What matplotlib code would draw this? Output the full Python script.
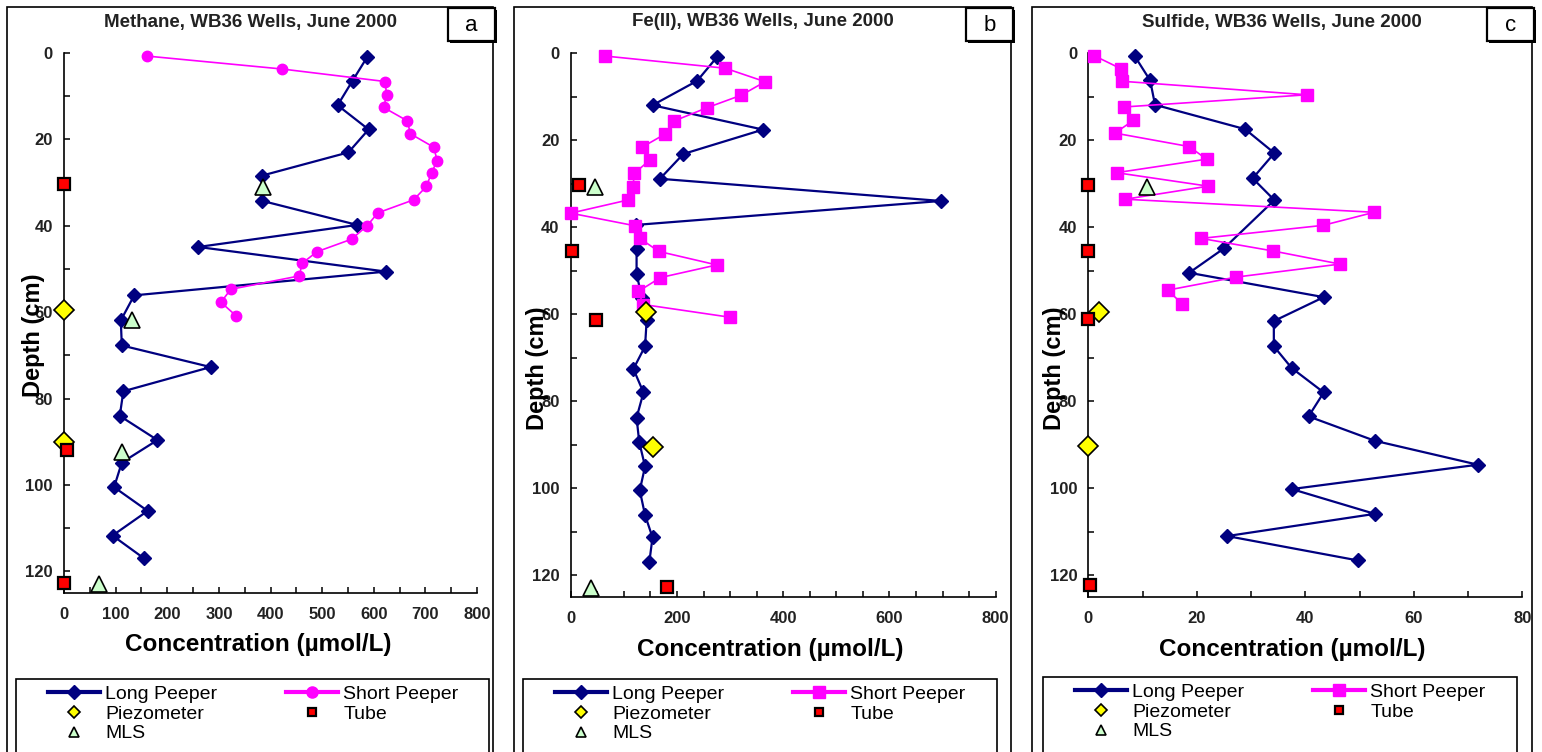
import matplotlib
matplotlib.use('Agg')
import matplotlib.pyplot as plt
from matplotlib.patches import Rectangle
from matplotlib.lines import Line2D
from matplotlib.ticker import MultipleLocator

plt.rcParams['font.family'] = ['Liberation Sans', 'DejaVu Sans']

# ---------------- data ----------------
# Panel a: Methane
ch4_long_depth = [1, 6.4, 12.1, 17.7, 23, 28.4, 34.2, 39.8, 44.9, 50.6, 56.1, 61.9,
                  67.7, 72.7, 78.3, 84, 89.6, 94.8, 100.5, 106, 111.7, 116.9]
ch4_long_conc = [587, 559, 530, 590, 551, 383, 383, 568, 260, 624, 136, 110,
                 112, 284, 115, 108, 181, 112, 97, 162, 94, 154]
ch4_short_depth = [0.7, 3.7, 6.6, 9.8, 12.6, 15.7, 18.7, 21.8, 24.9, 27.7, 30.9,
                   34, 37, 40, 43.1, 46, 48.7, 51.6, 54.7, 57.7, 60.8]
ch4_short_conc = [160, 422, 622, 625, 619, 665, 671, 716, 723, 712, 702,
                  677, 608, 587, 557, 490, 461, 456, 323, 304, 333]
ch4_piezo_depth = [59.6, 90]
ch4_piezo_conc = [0, 0]
ch4_tube_depth = [30.3, 92, 122.6]
ch4_tube_conc = [0, 5, 0]
ch4_mls_depth = [31, 61.7, 92.3, 123]
ch4_mls_conc = [386, 132, 112, 68]

# Panel b: Fe(II)
fe_long_depth = [0.85, 6.4, 12, 17.6, 23.2, 28.9, 34, 39.5, 45.1, 50.7, 56.3, 61.3,
                 67.4, 72.6, 78, 83.8, 89.4, 95, 100.5, 106.2, 111.3, 117]
fe_long_conc = [276, 238, 154, 362, 212, 168, 697, 123, 124, 124, 134, 143,
                140, 118, 137, 124, 129, 140, 130, 140, 154, 148]
fe_short_depth = [0.7, 3.5, 6.6, 9.7, 12.6, 15.6, 18.6, 21.6, 24.6, 27.6, 30.8,
                  33.8, 36.8, 39.7, 42.6, 45.6, 48.7, 51.6, 54.8, 57.8, 60.7]
fe_short_conc = [65, 291, 366, 321, 256, 195, 178, 135, 149, 120, 117,
                 107, 0, 121, 130, 166, 275, 169, 127, 137, 299]
fe_piezo_depth = [59.6, 90.5]
fe_piezo_conc = [142, 154]
fe_tube_depth = [30.3, 45.6, 61.3, 122.7]
fe_tube_conc = [16, 3, 47, 181]
fe_mls_depth = [30.7, 123]
fe_mls_conc = [46, 38]

# Panel c: Sulfide
hs_long_depth = [0.8, 6.3, 11.9, 17.5, 23, 28.8, 33.8, 44.9, 50.5, 56.1, 61.6,
                 67.4, 72.4, 78, 83.5, 89.1, 94.6, 100.2, 105.9, 111, 116.6]
hs_long_conc = [8.6, 11.4, 12.3, 28.9, 34.3, 30.3, 34.3, 25, 18.6, 43.4, 34.2,
                34.2, 37.5, 43.4, 40.6, 52.8, 71.8, 37.5, 52.8, 25.6, 49.7]
hs_short_depth = [0.6, 3.6, 6.5, 9.6, 12.4, 15.5, 18.4, 21.5, 24.4, 27.5, 30.6,
                  33.6, 36.6, 39.6, 42.6, 45.5, 48.5, 51.5, 54.5, 57.6]
hs_short_conc = [1.05, 6, 6.3, 40.3, 6.6, 8.3, 4.9, 18.6, 21.8, 5.2, 22.1,
                 6.8, 52.7, 43.3, 20.8, 34.1, 46.4, 27.2, 14.6, 17.3]
hs_piezo_depth = [59.4, 90.3]
hs_piezo_conc = [2, 0]
hs_tube_depth = [30.3, 45.6, 61.2, 122.3]
hs_tube_conc = [0, 0, 0, 0.4]
hs_mls_depth = [30.7]
hs_mls_conc = [10.9]

titles = ['Methane, WB36 Wells, June 2000', 'Fe(II), WB36 Wells, June 2000',
          'Sulfide, WB36 Wells, June 2000']
letters = ['a', 'b', 'c']
legend_labels = ['Long Peeper', 'Short Peeper', 'Piezometer', 'Tube', 'MLS']
xlabel_text = 'Concentration (\u00b5mol/L)'
ylabel_text = 'Depth (cm)'

# ---------------- styling ----------------
W, H = 1542, 752
NAVY = '#000080'
MAGENTA = '#FF00FF'
YELLOW = '#FFFF00'
RED = '#FF0000'
LGREEN = '#CCFFCC'

fig = plt.figure(figsize=(W / 100, H / 100), dpi=100)


def fx(px):
    return px / W


def fy(py):
    return 1 - py / H


def draw_panel(axpx, framepx, legpx, ylab_xy, title, letter, xmax, xlab_step,
               xtick_step, ld, lc, sd, sc, smarker, pd_, pc, td, tc, md, mc):
    x0, x1, y0, y1 = axpx
    ax = fig.add_axes([fx(x0), fy(y1), fx(x1 - x0), (y1 - y0) / H])
    ax.plot(lc, ld, color=NAVY, lw=1.6, marker='D', ms=7, mfc=NAVY, mec=NAVY,
            zorder=3, clip_on=False)
    ax.plot(sc, sd, color=MAGENTA, lw=1.2, marker=smarker,
            ms=(7.5 if smarker == 'o' else 8), mfc=MAGENTA, mec=MAGENTA,
            zorder=4, clip_on=False)
    ax.plot(pc, pd_, ls='none', marker='D', ms=10, mfc=YELLOW, mec='black',
            mew=1.2, zorder=5, clip_on=False)
    ax.plot(tc, td, ls='none', marker='s', ms=8, mfc=RED, mec='black',
            mew=1.6, zorder=6, clip_on=False)
    ax.plot(mc, md, ls='none', marker='^', ms=12, mfc=LGREEN, mec='black',
            mew=1.2, zorder=7, clip_on=False)
    ax.set_xlim(0, xmax)
    ax.set_ylim(125, 0)
    for s in ['top', 'right']:
        ax.spines[s].set_visible(False)
    for s in ['left', 'bottom']:
        ax.spines[s].set_linewidth(1.2)
    ax.set_yticks(range(0, 121, 20))
    ax.yaxis.set_minor_locator(MultipleLocator(10))
    ax.xaxis.set_major_locator(MultipleLocator(xlab_step))
    ax.xaxis.set_minor_locator(MultipleLocator(xtick_step))
    ax.tick_params(which='both', direction='in', length=4, width=1.1)
    ax.tick_params(axis='y', which='major', labelsize=12, pad=8)
    ax.tick_params(axis='x', which='major', labelsize=12, pad=10)
    for t in ax.get_xticklabels() + ax.get_yticklabels():
        t.set_fontweight('bold')
        t.set_color('#222222')
    ax.set_xlabel(xlabel_text, fontsize=17.5, fontweight='bold')
    ax.xaxis.set_label_coords(0.47, -0.075)
    ax.set_ylabel(ylabel_text, fontsize=17, fontweight='bold')
    ax.yaxis.set_label_coords(*ylab_xy)
    ax.patch.set_alpha(0)

    # panel frame (cut off at bottom)
    fl, fr, ft = framepx
    fig.add_artist(Rectangle((fx(fl), fy(H + 20)), fx(fr - fl), (H + 20 - ft) / H,
                             transform=fig.transFigure, fill=False,
                             ec='black', lw=1.2, zorder=0))
    # title
    fig.text(fx((fl + fr) / 2), fy(22), title, ha='center', va='center',
             fontsize=13.5, fontweight='bold', color='#222222')
    # letter box
    bl, br, bt, bb = fr - 45, fr + 2, 8, 41
    fig.add_artist(Rectangle((fx(bl + 2), fy(bb + 2)), fx(br - bl), (bb - bt) / H,
                             transform=fig.transFigure, fc='black', ec='black',
                             lw=0, zorder=5))
    fig.add_artist(Rectangle((fx(bl), fy(bb)), fx(br - bl), (bb - bt) / H,
                             transform=fig.transFigure, fc='white', ec='black',
                             lw=1.6, zorder=6))
    fig.text(fx((bl + br) / 2), fy((bt + bb) / 2 + 1), letter, ha='center',
             va='center', fontsize=16, zorder=7)

    # legend frame (cut off at bottom)
    ll, lr, lt = legpx
    fig.add_artist(Rectangle((fx(ll), fy(H + 20)), fx(lr - ll), (H + 20 - lt) / H,
                             transform=fig.transFigure, fill=False,
                             ec='black', lw=1.2, zorder=0))
    h_long = Line2D([], [], color=NAVY, lw=3, marker='D', ms=7, mfc=NAVY, mec=NAVY)
    h_short = Line2D([], [], color=MAGENTA, lw=3, marker=smarker, ms=8,
                     mfc=MAGENTA, mec=MAGENTA)
    h_piezo = Line2D([], [], ls='none', marker='D', ms=6, mfc=YELLOW, mec='black',
                     mew=1.2)
    h_tube = Line2D([], [], ls='none', marker='s', ms=6, mfc=RED, mec='black',
                    mew=1.6)
    h_mls = Line2D([], [], ls='none', marker='^', ms=7, mfc=LGREEN, mec='black',
                   mew=1.2)
    common = dict(loc='upper left', bbox_transform=fig.transFigure, frameon=False,
                  fontsize=14, handlelength=2.65, handletextpad=0.3,
                  labelspacing=0.12, borderpad=0, borderaxespad=0)
    fig.legend([h_long, h_piezo, h_mls],
               [legend_labels[0], legend_labels[2], legend_labels[4]],
               bbox_to_anchor=(fx(ll + 32), fy(lt + 6)), **common)
    fig.legend([h_short, h_tube], [legend_labels[1], legend_labels[3]],
               bbox_to_anchor=(fx(ll + 270), fy(lt + 6)), **common)
    return ax


draw_panel((64, 477, 53, 593), (7, 493, 7), (16, 489, 679), (-0.045, 0.478),
           titles[0], letters[0], 800, 100, 50,
           ch4_long_depth, ch4_long_conc, ch4_short_depth, ch4_short_conc, 'o',
           ch4_piezo_depth, ch4_piezo_conc, ch4_tube_depth, ch4_tube_conc,
           ch4_mls_depth, ch4_mls_conc)
draw_panel((570.7, 995.7, 53, 597), (514, 1011, 7), (523, 997, 679), (-0.05, 0.42),
           titles[1], letters[1], 800, 200, 50,
           fe_long_depth, fe_long_conc, fe_short_depth, fe_short_conc, 's',
           fe_piezo_depth, fe_piezo_conc, fe_tube_depth, fe_tube_conc,
           fe_mls_depth, fe_mls_conc)
draw_panel((1088.3, 1522.3, 53, 597), (1032, 1532, 7), (1043, 1517, 677),
           (-0.052, 0.42), titles[2], letters[2], 80, 20, 10,
           hs_long_depth, hs_long_conc, hs_short_depth, hs_short_conc, 's',
           hs_piezo_depth, hs_piezo_conc, hs_tube_depth, hs_tube_conc,
           hs_mls_depth, hs_mls_conc)

fig.savefig('out.png', dpi=100)
